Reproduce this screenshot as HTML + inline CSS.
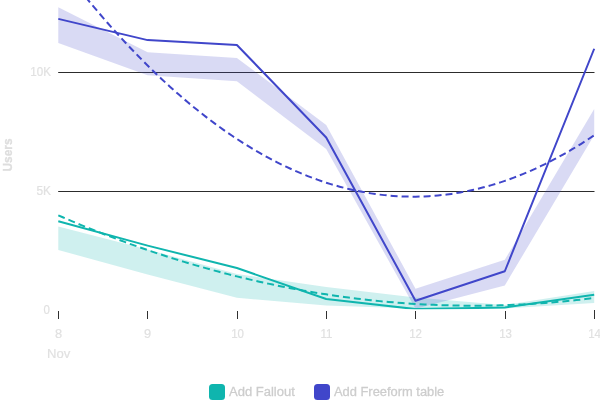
<!DOCTYPE html>
<html><head><meta charset="utf-8"><title>Chart</title>
<style>
html,body{margin:0;padding:0;background:#fff;}
body{width:600px;height:400px;overflow:hidden;font-family:"Liberation Sans",sans-serif;}
svg{display:block;will-change:transform}
svg text{font-family:"Liberation Sans",sans-serif;}
</style></head><body>
<svg width="600" height="400" viewBox="0 0 600 400">
<rect width="600" height="400" fill="#fff"/>
<g stroke="#2c2c2c" stroke-width="1">
<line x1="58.2" x2="594.5" y1="72.5" y2="72.5"/>
<line x1="58.2" x2="594.5" y1="191.5" y2="191.5"/>
</g>
<line x1="58.5" x2="58.5" y1="311" y2="319" stroke="#303030" stroke-width="1"/><line x1="147.5" x2="147.5" y1="311" y2="319" stroke="#303030" stroke-width="1"/><line x1="237.5" x2="237.5" y1="311" y2="319" stroke="#303030" stroke-width="1"/><line x1="326.5" x2="326.5" y1="311" y2="319" stroke="#303030" stroke-width="1"/><line x1="415.5" x2="415.5" y1="311" y2="319" stroke="#303030" stroke-width="1"/><line x1="505.5" x2="505.5" y1="311" y2="319" stroke="#303030" stroke-width="1"/><line x1="594.5" x2="594.5" y1="310" y2="319" stroke="#303030" stroke-width="1"/>
<g font-size="13.5" fill="#e1e1e1" stroke="#e1e1e1" stroke-width="0.2">
<text transform="translate(58.5,338) scale(0.95,1)" text-anchor="middle">8</text><text transform="translate(147.5,338) scale(0.95,1)" text-anchor="middle">9</text><text transform="translate(237.5,338) scale(0.85,1)" text-anchor="middle">10</text><text transform="translate(326.5,338) scale(0.85,1)" text-anchor="middle">11</text><text transform="translate(415.5,338) scale(0.85,1)" text-anchor="middle">12</text><text transform="translate(505.5,338) scale(0.85,1)" text-anchor="middle">13</text><text transform="translate(594.5,338) scale(0.85,1)" text-anchor="middle">14</text>
<text transform="translate(47,358.3) scale(0.97,1)">Nov</text>
<text transform="translate(51,76) scale(0.86,1)" text-anchor="end">10K</text>
<text transform="translate(51,195) scale(0.88,1)" text-anchor="end">5K</text>
<text transform="translate(50,314.3) scale(0.85,1)" text-anchor="end">0</text>
</g>
<text transform="translate(12.2,155) rotate(-90) scale(0.88,1)" text-anchor="middle" font-size="13.5" font-weight="bold" fill="#dedede" stroke="#dedede" stroke-width="0.35">Users</text>
<clipPath id="plot"><rect x="0" y="-50" width="600" height="359.25"/></clipPath>
<g clip-path="url(#plot)">
<polygon points="58.30,226.50 147.60,249.50 236.90,274.00 326.20,287.00 415.50,297.50 504.80,305.00 594.20,291.00 594.20,303.00 504.80,308.50 415.50,308.50 326.20,305.50 236.90,297.80 147.60,274.50 58.30,250.00" fill="#0FB5AE" fill-opacity="0.2"/>
<polygon points="58.30,7.30 147.60,52.20 236.90,58.00 326.20,125.00 415.50,288.75 504.80,259.80 594.20,109.00 594.20,135.00 504.80,285.50 415.50,308.70 326.20,149.00 236.90,81.20 147.60,75.30 58.30,42.90" fill="#4046CA" fill-opacity="0.2"/>
<polyline points="58.30,221.25 147.60,245.60 236.90,268.00 326.20,299.00 415.50,309.10 504.80,307.40 594.20,294.80" fill="none" stroke="#0FB5AE" stroke-width="2" stroke-linejoin="round"/>
<polyline points="58.30,215.36 62.77,217.29 67.23,219.20 71.70,221.10 76.16,222.97 80.63,224.82 85.09,226.65 89.56,228.46 94.03,230.25 98.49,232.01 102.96,233.76 107.42,235.48 111.89,237.19 116.36,238.87 120.82,240.53 125.29,242.18 129.75,243.80 134.22,245.40 138.69,246.97 143.15,248.53 147.62,250.07 152.08,251.58 156.55,253.08 161.01,254.55 165.48,256.01 169.95,257.44 174.41,258.85 178.88,260.24 183.34,261.61 187.81,262.96 192.28,264.28 196.74,265.59 201.21,266.87 205.67,268.14 210.14,269.38 214.60,270.61 219.07,271.81 223.54,272.99 228.00,274.15 232.47,275.29 236.93,276.40 241.40,277.50 245.87,278.58 250.33,279.63 254.80,280.67 259.26,281.68 263.73,282.67 268.19,283.64 272.66,284.59 277.13,285.52 281.59,286.43 286.06,287.32 290.52,288.18 294.99,289.03 299.46,289.85 303.92,290.66 308.39,291.44 312.85,292.20 317.32,292.94 321.78,293.66 326.25,294.36 330.72,295.04 335.18,295.70 339.65,296.33 344.11,296.95 348.58,297.54 353.05,298.12 357.51,298.67 361.98,299.20 366.44,299.71 370.91,300.20 375.37,300.67 379.84,301.12 384.31,301.54 388.77,301.95 393.24,302.33 397.70,302.70 402.17,303.04 406.64,303.36 411.10,303.66 415.57,303.95 420.03,304.20 424.50,304.44 428.96,304.66 433.43,304.86 437.90,305.03 442.36,305.19 446.83,305.32 451.29,305.43 455.76,305.52 460.23,305.59 464.69,305.64 469.16,305.67 473.62,305.68 478.09,305.67 482.55,305.63 487.02,305.58 491.49,305.50 495.95,305.41 500.42,305.29 504.88,305.15 509.35,304.99 513.82,304.81 518.28,304.61 522.75,304.39 527.21,304.14 531.68,303.88 536.14,303.59 540.61,303.29 545.08,302.96 549.54,302.61 554.01,302.24 558.47,301.85 562.94,301.44 567.41,301.01 571.87,300.56 576.34,300.08 580.80,299.59 585.27,299.07 589.73,298.54 594.20,297.98" fill="none" stroke="#0FB5AE" stroke-width="2" stroke-dasharray="7 4"/>
<polyline points="58.30,18.90 147.60,40.10 236.90,45.00 326.20,137.50 415.50,300.70 504.80,271.25 594.20,48.75" fill="none" stroke="#4046CA" stroke-width="2" stroke-linejoin="round"/>
<polyline points="58.30,-37.70 62.77,-31.84 67.23,-26.04 71.70,-20.33 76.16,-14.68 80.63,-9.11 85.09,-3.62 89.56,1.80 94.03,7.15 98.49,12.42 102.96,17.62 107.42,22.74 111.89,27.79 116.36,32.77 120.82,37.67 125.29,42.49 129.75,47.25 134.22,51.92 138.69,56.53 143.15,61.05 147.62,65.51 152.08,69.89 156.55,74.19 161.01,78.42 165.48,82.58 169.95,86.66 174.41,90.67 178.88,94.60 183.34,98.46 187.81,102.25 192.28,105.96 196.74,109.59 201.21,113.15 205.67,116.64 210.14,120.05 214.60,123.39 219.07,126.66 223.54,129.85 228.00,132.96 232.47,136.00 236.93,138.97 241.40,141.86 245.87,144.68 250.33,147.42 254.80,150.09 259.26,152.69 263.73,155.21 268.19,157.65 272.66,160.02 277.13,162.32 281.59,164.54 286.06,166.69 290.52,168.76 294.99,170.76 299.46,172.69 303.92,174.54 308.39,176.32 312.85,178.02 317.32,179.65 321.78,181.20 326.25,182.68 330.72,184.08 335.18,185.41 339.65,186.67 344.11,187.85 348.58,188.96 353.05,189.99 357.51,190.95 361.98,191.83 366.44,192.64 370.91,193.38 375.37,194.04 379.84,194.62 384.31,195.13 388.77,195.57 393.24,195.94 397.70,196.22 402.17,196.44 406.64,196.58 411.10,196.64 415.57,196.64 420.03,196.55 424.50,196.40 428.96,196.16 433.43,195.86 437.90,195.48 442.36,195.02 446.83,194.49 451.29,193.89 455.76,193.21 460.23,192.46 464.69,191.63 469.16,190.73 473.62,189.75 478.09,188.70 482.55,187.58 487.02,186.38 491.49,185.11 495.95,183.76 500.42,182.34 504.88,180.84 509.35,179.27 513.82,177.63 518.28,175.91 522.75,174.11 527.21,172.25 531.68,170.30 536.14,168.29 540.61,166.19 545.08,164.03 549.54,161.79 554.01,159.47 558.47,157.09 562.94,154.62 567.41,152.08 571.87,149.47 576.34,146.79 580.80,144.03 585.27,141.19 589.73,138.28 594.20,135.30" fill="none" stroke="#4046CA" stroke-width="2" stroke-dasharray="7 4"/>
</g>
<rect x="209" y="384" width="16" height="16" rx="3.5" fill="#0FB5AE"/>
<text transform="translate(229,396) scale(0.965,1)" font-size="13.5" fill="#cdcdcd" stroke="#cdcdcd" stroke-width="0.3">Add Fallout</text>
<rect x="314" y="384" width="16" height="16" rx="3.5" fill="#4046CA"/>
<text transform="translate(334,396) scale(0.955,1)" font-size="13.5" fill="#cdcdcd" stroke="#cdcdcd" stroke-width="0.3">Add Freeform table</text>
</svg>
</body></html>
